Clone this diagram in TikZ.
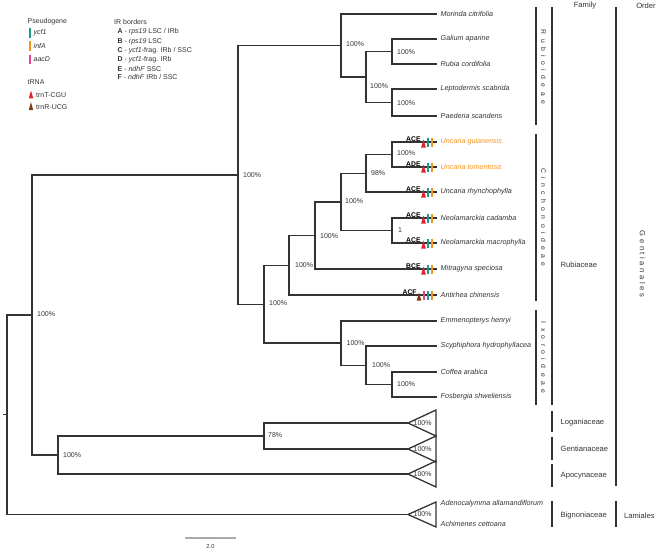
\documentclass[tikz,border=0pt]{standalone}
\usepackage{fontspec}
\setmainfont{Liberation Sans}
\definecolor{ln}{HTML}{333333}
\definecolor{tx}{HTML}{333333}
\definecolor{tealc}{HTML}{1A9A8A}
\definecolor{orangec}{HTML}{F7941D}
\definecolor{pinkc}{HTML}{EC3F8C}
\definecolor{redc}{HTML}{E4202A}
\definecolor{brownc}{HTML}{7A3B12}
\definecolor{barc}{HTML}{AAAAAA}
\newcommand{\lsp}{\hspace{4.4pt}}
\newcommand{\lso}{\hspace{2.6pt}}
\begin{document}
\begin{tikzpicture}[x=1pt,y=-1pt,
  br/.style={draw=ln, line width=1.3pt},
  clade/.style={draw=ln, line width=1.3pt, line join=miter},
  taxon/.style={font=\fontsize{7.2}{8}\selectfont\itshape, text=tx, anchor=west, inner sep=0pt},
  hltaxon/.style={taxon, text=orangec},
  bs/.style={font=\fontsize{7}{8}\selectfont, text=tx, anchor=west, inner sep=0pt},
  mk/.style={font=\fontsize{6.8}{7}\selectfont\bfseries, text=black, anchor=south east, inner sep=0pt},
  hdr/.style={font=\fontsize{7.6}{9}\selectfont, text=tx, inner sep=0pt},
  fam/.style={font=\fontsize{7.6}{9}\selectfont, text=tx, anchor=west, inner sep=0pt},
  sub/.style={font=\fontsize{6.8}{8}\selectfont, text=tx, rotate=-90, inner sep=0pt},
  vbar/.style={draw=ln, line width=1.3pt},
  tealbar/.style={draw=tealc, line width=1.5pt},
  orangebar/.style={draw=orangec, line width=1.5pt},
  pinkbar/.style={draw=pinkc, line width=1.5pt},
  legbar/.style={line width=1.9pt}
]
\useasboundingbox (0,0) rectangle (669,549);

% ---------- internal nodes ----------
\coordinate (stub) at (3,414.5);
\coordinate (n7) at (7,414.5);
\coordinate (n32) at (32,315);
\coordinate (n58) at (58,455);
\coordinate (n264b) at (264,436);
\coordinate (n238) at (238,175);
\coordinate (n341R) at (341,45.5);
\coordinate (n366R) at (366,77);
\coordinate (n392a) at (392,51.5);
\coordinate (n392b) at (392,102.5);
\coordinate (n264) at (264,304.2);
\coordinate (n289) at (289,265.2);
\coordinate (n315) at (315,235.4);
\coordinate (n341C) at (341,202);
\coordinate (n366C) at (366,173.3);
\coordinate (n392U) at (392,154.5);
\coordinate (n392N) at (392,230.5);
\coordinate (n341I) at (341,343.1);
\coordinate (n366I) at (366,365.3);
\coordinate (n392I) at (392,384.5);
% triangle apexes
\coordinate (aLog) at (408,423);
\coordinate (aGen) at (408,449);
\coordinate (aApo) at (408,474);
\coordinate (aBig) at (408,514.5);

% ---------- tips ----------
\coordinate (tMor) at (437,14);
\coordinate (tGal) at (437,39);
\coordinate (tRub) at (437,64);
\coordinate (tLep) at (437,89);
\coordinate (tPae) at (437,116);
\coordinate (tUgu) at (437,142);
\coordinate (tUto) at (437,167);
\coordinate (tUrh) at (437,192);
\coordinate (tNca) at (437,218);
\coordinate (tNma) at (437,243);
\coordinate (tMit) at (437,269);
\coordinate (tAnt) at (437,295);
\coordinate (tEmm) at (437,321);
\coordinate (tScy) at (437,346);
\coordinate (tCof) at (437,372);
\coordinate (tFos) at (437,397);

\node[taxon] (lMor) at (440.5,14) {Morinda citrifolia};
\node[taxon] (lGal) at (440.5,39) {Galium aparine};
\node[taxon] (lRub) at (440.5,64) {Rubia cordifolia};
\node[taxon] (lLep) at (440.5,89) {Leptodermis scabrida};
\node[taxon] (lPae) at (440.5,116) {Paederia scandens};
\node[hltaxon] (lUgu) at (440.5,142) {Uncaria guianensis};
\node[hltaxon] (lUto) at (440.5,167) {Uncaria tomentosa};
\node[taxon] (lUrh) at (440.5,192) {Uncaria rhynchophylla};
\node[taxon] (lNca) at (440.5,218) {Neolamarckia cadamba};
\node[taxon] (lNma) at (440.5,243) {Neolamarckia macrophylla};
\node[taxon] (lMit) at (440.5,269) {Mitragyna speciosa};
\node[taxon] (lAnt) at (440.5,295) {Antirhea chinensis};
\node[taxon] (lEmm) at (440.5,321) {Emmenopterys henryi};
\node[taxon] (lScy) at (440.5,346) {Scyphiphora hydrophyllacea};
\node[taxon] (lCof) at (440.5,372) {Coffea arabica};
\node[taxon] (lFos) at (440.5,397) {Fosbergia shweliensis};
\node[taxon] (lAde) at (440.5,504) {Adenocalymma allamandiflorum};
\node[taxon] (lAch) at (440.5,524) {Achimenes cettoana};

% ---------- branches ----------
\draw[br] (stub) -- (n7);
\draw[br] (n7) |- (n32);  \draw[br] (n7) |- (aBig);
\draw[br] (n32) |- (n238); \draw[br] (n32) |- (n58);
\draw[br] (n58) |- (n264b); \draw[br] (n58) |- (aApo);
\draw[br] (n264b) |- (aLog); \draw[br] (n264b) |- (aGen);
\draw[br] (n238) |- (n341R); \draw[br] (n238) |- (n264);
\draw[br] (n341R) |- (tMor); \draw[br] (n341R) |- (n366R);
\draw[br] (n366R) |- (n392a); \draw[br] (n366R) |- (n392b);
\draw[br] (n392a) |- (tGal); \draw[br] (n392a) |- (tRub);
\draw[br] (n392b) |- (tLep); \draw[br] (n392b) |- (tPae);
\draw[br] (n264) |- (n289); \draw[br] (n264) |- (n341I);
\draw[br] (n289) |- (n315); \draw[br] (n289) |- (tAnt);
\draw[br] (n315) |- (n341C); \draw[br] (n315) |- (tMit);
\draw[br] (n341C) |- (n366C); \draw[br] (n341C) |- (n392N);
\draw[br] (n366C) |- (n392U); \draw[br] (n366C) |- (tUrh);
\draw[br] (n392U) |- (tUgu); \draw[br] (n392U) |- (tUto);
\draw[br] (n392N) |- (tNca); \draw[br] (n392N) |- (tNma);
\draw[br] (n341I) |- (tEmm); \draw[br] (n341I) |- (n366I);
\draw[br] (n366I) |- (tScy); \draw[br] (n366I) |- (n392I);
\draw[br] (n392I) |- (tCof); \draw[br] (n392I) |- (tFos);

% collapsed clades
\foreach \ap in {aLog,aGen,aApo}{
  \draw[clade] (\ap) -- ++(28,-13) -- ++(0,26) -- cycle;
}
\draw[clade] (aBig) -- ++(28,-12.5) -- ++(0,25) -- cycle;

% ---------- support values ----------
\node[bs] (s238) at (243,175) {100\%};
\node[bs] (s341R) at (346,44) {100\%};
\node[bs] (s366R) at (370,86) {100\%};
\node[bs] (s392a) at (397,52) {100\%};
\node[bs] (s392b) at (397,103) {100\%};
\node[bs] (s392U) at (397,153.5) {100\%};
\node[bs] (s366C) at (371,173) {98\%};
\node[bs] (s341C) at (345,201) {100\%};
\node[bs] (s392N) at (398,230) {1};
\node[bs] (s315) at (320,236) {100\%};
\node[bs] (s289) at (295,265) {100\%};
\node[bs] (s264) at (269,303.5) {100\%};
\node[bs] (s341I) at (346.5,343) {100\%};
\node[bs] (s366I) at (372,365) {100\%};
\node[bs] (s392I) at (397,384) {100\%};
\node[bs] (s32) at (37,314) {100\%};
\node[bs] (s58) at (63,455) {100\%};
\node[bs] (s264b) at (268,435) {78\%};
\node[bs] (sLog) at (413.5,423) {100\%};
\node[bs] (sGen) at (413.5,449) {100\%};
\node[bs] (sApo) at (413.5,474) {100\%};
\node[bs] (sBig) at (413.5,514.5) {100\%};

% ---------- IR / pseudogene markers ----------
\foreach \yy/\lbl/\nm in {142/ACE/mA, 167/ADE/mB, 192/ACE/mC, 218/ACE/mD, 243/ACE/mE, 269/BCE/mF}{
  \node[mk] (\nm) at (420.8,\yy-0.6) {\lbl};
  \fill[redc] (421.1,\yy+5.6) -- (423.5,\yy-2.4) -- (425.9,\yy+5.6) -- cycle;
  \draw[tealbar] (428,\yy-4.3) -- (428,\yy+5.2);
  \draw[orangebar] (432,\yy-4.3) -- (432,\yy+5.2);
}
\node[mk] (mG) at (416.8,294.4) {ACF};
\fill[brownc] (416.7,300.6) -- (419,292.6) -- (421.3,300.6) -- cycle;
\draw[pinkbar] (423.8,290.7) -- (423.8,300.2);
\draw[tealbar] (428,290.7) -- (428,300.2);
\draw[orangebar] (432,290.7) -- (432,300.2);

% ---------- legend ----------
\node[bs] (pg) at (27.5,21.5) {Pseudogene};
\draw[legbar, tealc] (29.6,28) -- (29.6,37.5);
\node[bs, font=\fontsize{7}{8}\selectfont\itshape] (gycf) at (33.5,33) {ycf1};
\draw[legbar, orangec] (29.6,41) -- (29.6,50.5);
\node[bs, font=\fontsize{7}{8}\selectfont\itshape] (ginf) at (33.5,46) {infA};
\draw[legbar, pinkc] (29.6,54.5) -- (29.6,64);
\node[bs, font=\fontsize{7}{8}\selectfont\itshape] (gaac) at (33.5,59.5) {aacD};
\node[bs] (trna) at (27.5,82) {tRNA};
\fill[redc] (28.8,98.3) -- (31,90.5) -- (33.2,98.3) -- cycle;
\node[bs] (gtrnT) at (36,95) {trnT-CGU};
\fill[brownc] (28.8,110) -- (31,102.2) -- (33.2,110) -- cycle;
\node[bs] (gtrnR) at (36,107) {trnR-UCG};

\node[bs] (ir) at (114,22) {IR borders};
\node[bs] (irA) at (117.5,32) {\textbf{A} - \textit{rps19} LSC / IRb};
\node[bs] (irB) at (117.5,41.5) {\textbf{B} - \textit{rps19} LSC};
\node[bs] (irC) at (117.5,50.8) {\textbf{C} - \textit{ycf1}-frag. IRb / SSC};
\node[bs] (irD) at (117.5,59.8) {\textbf{D} - \textit{ycf1}-frag. IRb};
\node[bs] (irE) at (117.5,68.5) {\textbf{E} - \textit{ndhF} SSC};
\node[bs] (irF) at (117.5,77.3) {\textbf{F} - \textit{ndhF} IRb / SSC};

% ---------- scale bar ----------
\draw[draw=barc, line width=1.2pt] (185,538) -- (236,538);
\node[font=\fontsize{5.8}{7}\selectfont, text=tx, inner sep=0pt] (scl) at (210.5,546) {2.0};

% ---------- classification bars ----------
\draw[vbar] (536,7) -- (536,125);
\draw[vbar] (536,134) -- (536,301);
\draw[vbar] (536,310) -- (536,405);
\node[sub] (subR) at (543.5,67) {R\lsp u\lsp b\lsp i\lsp o\lsp i\lsp d\lsp e\lsp a\lsp e};
\node[sub] (subC) at (543.5,217.5) {C\lsp i\lsp n\lsp c\lsp h\lsp o\lsp n\lsp o\lsp i\lsp d\lsp e\lsp a\lsp e};
\node[sub] (subI) at (543.5,357.5) {I\lsp x\lsp o\lsp r\lsp o\lsp i\lsp d\lsp e\lsp a\lsp e};

\draw[vbar] (552,7) -- (552,405);
\draw[vbar] (552,411) -- (552,432);
\draw[vbar] (552,437) -- (552,460);
\draw[vbar] (552,464) -- (552,487);
\draw[vbar] (552,501) -- (552,527);
\node[fam] (fRub) at (560.5,265) {Rubiaceae};
\node[fam] (fLog) at (560.5,422.5) {Loganiaceae};
\node[fam] (fGen) at (560.5,449) {Gentianaceae};
\node[fam] (fApo) at (560.5,476) {Apocynaceae};
\node[fam] (fBig) at (560.5,516) {Bignoniaceae};

\draw[vbar] (616,7) -- (616,486);
\draw[vbar] (616,501) -- (616,527);
\node[hdr, rotate=-90] (oGen) at (642.5,264) {G\lso e\lso n\lso t\lso i\lso a\lso n\lso a\lso l\lso e\lso s};
\node[fam] (oLam) at (624,516) {Lamiales};

\node[hdr] (hFam) at (585,5.5) {Family};
\node[hdr] (hOrd) at (646,5.5) {Order};
\end{tikzpicture}
\end{document}
